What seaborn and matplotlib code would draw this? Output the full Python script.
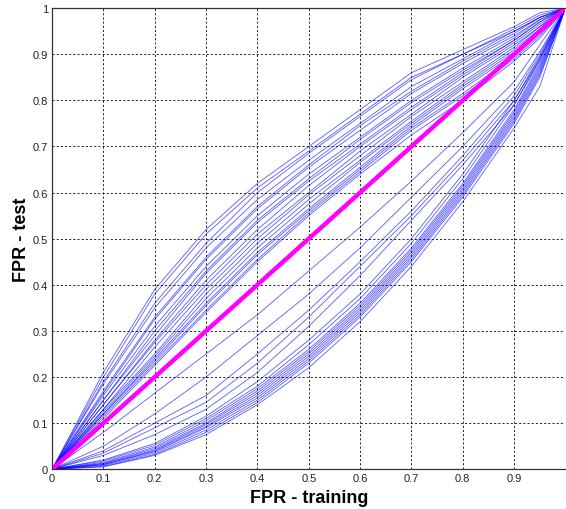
import matplotlib
matplotlib.use("Agg")
import matplotlib.pyplot as plt
import seaborn as sns
import pandas as pd

# FPR on training set (shared x knots of every curve)
fpr_train = [0, 0.1, 0.2, 0.3, 0.4, 0.5, 0.6, 0.7, 0.8, 0.9, 0.95, 1]

# curves above the diagonal
upper_curves = [
    [0, .21, .39, .52, .62, .70, .78, .86, .91, .96, .99, 1],
    [0, .20, .38, .51, .61, .69, .77, .85, .90, .955, .985, 1],
    [0, .19, .36, .49, .60, .685, .765, .845, .90, .95, .98, 1],
    [0, .185, .35, .48, .585, .67, .75, .83, .89, .95, .98, 1],
    [0, .17, .33, .46, .57, .66, .745, .82, .885, .945, .98, 1],
    [0, .165, .325, .455, .565, .655, .735, .815, .88, .94, .975, 1],
    [0, .16, .31, .44, .55, .64, .72, .80, .87, .935, .975, 1],
    [0, .15, .30, .43, .54, .63, .715, .795, .865, .93, .97, 1],
    [0, .15, .29, .425, .535, .625, .705, .785, .86, .93, .97, 1],
    [0, .14, .28, .41, .52, .615, .70, .78, .855, .925, .965, 1],
    [0, .14, .275, .40, .51, .60, .69, .77, .85, .92, .96, 1],
    [0, .13, .265, .39, .50, .595, .68, .765, .84, .915, .96, 1],
    [0, .13, .25, .38, .49, .585, .67, .755, .835, .91, .955, 1],
    [0, .125, .245, .37, .48, .575, .665, .75, .83, .905, .95, 1],
    [0, .12, .24, .36, .47, .565, .655, .745, .825, .90, .95, 1],
    [0, .12, .235, .355, .465, .56, .65, .74, .815, .895, .945, 1],
    [0, .115, .23, .345, .455, .555, .645, .735, .81, .89, .94, 1],
    [0, .11, .225, .34, .45, .55, .64, .725, .80, .885, .935, 1],
]

# curves a little below the diagonal
middle_curves = [
    [0, .08, .165, .25, .335, .43, .525, .625, .73, .84, .92, 1],
    [0, .05, .12, .20, .29, .38, .48, .59, .70, .82, .905, 1],
    [0, .04, .10, .16, .25, .345, .45, .56, .68, .81, .90, 1],
    [0, .035, .09, .145, .23, .33, .44, .55, .67, .80, .895, 1],
    [0, .03, .075, .13, .21, .31, .42, .54, .66, .79, .89, 1],
]

# bundle far below the diagonal
lower_curves = [
    [0, .005, .03, .075, .14, .22, .32, .44, .58, .74, .83, 1],
    [0, .006, .032, .08, .145, .23, .33, .45, .59, .75, .85, 1],
    [0, .008, .035, .085, .15, .235, .335, .455, .595, .755, .855, 1],
    [0, .01, .038, .09, .155, .24, .34, .46, .60, .76, .86, 1],
    [0, .01, .04, .093, .16, .245, .345, .465, .605, .765, .865, 1],
    [0, .012, .042, .097, .165, .25, .35, .47, .61, .77, .87, 1],
    [0, .013, .045, .10, .17, .255, .355, .475, .615, .775, .875, 1],
    [0, .015, .048, .105, .175, .26, .36, .48, .62, .78, .88, 1],
    [0, .018, .052, .11, .18, .27, .37, .49, .63, .79, .885, 1],
    [0, .02, .056, .115, .19, .28, .38, .50, .64, .80, .89, 1],
]

diag_x = [0, 1]
diag_y = [0, 1]

xticks = [0, 0.1, 0.2, 0.3, 0.4, 0.5, 0.6, 0.7, 0.8, 0.9]
xticklabels = ["0", "0.1", "0.2", "0.3", "0.4", "0.5", "0.6", "0.7", "0.8", "0.9"]
yticks = [0, 0.1, 0.2, 0.3, 0.4, 0.5, 0.6, 0.7, 0.8, 0.9, 1]
yticklabels = ["0", "0.1", "0.2", "0.3", "0.4", "0.5", "0.6", "0.7", "0.8", "0.9", "1"]

rows = []
for i, c in enumerate(upper_curves + middle_curves + lower_curves):
    for x, y in zip(fpr_train, c):
        rows.append({"curve": i, "train": x, "test": y})
df = pd.DataFrame(rows)

sns.set_style("white")
plt.rcParams["font.family"] = ["Liberation Sans", "DejaVu Sans"]

fig = plt.figure(figsize=(5.66, 5.10), dpi=100)
ax = fig.add_axes([0.092, 0.078, 0.907, 0.904])

sns.lineplot(data=df, x="train", y="test", units="curve", estimator=None,
             color="#0000ff", linewidth=0.6, alpha=0.65, ax=ax, legend=False)
sns.lineplot(x=diag_x, y=diag_y, color="#ff00ff", linewidth=3.2, ax=ax)

ax.set_xlim(0, 1)
ax.set_ylim(0, 1)
ax.set_xticks(xticks)
ax.set_xticklabels(xticklabels)
ax.set_yticks(yticks)
ax.set_yticklabels(yticklabels)
ax.tick_params(direction="in", length=3, labelsize=8, colors="#222222", pad=3)
ax.grid(True, color="black", linestyle=(0, (2.5, 2.5)), linewidth=0.6)
for s in ["top", "left", "bottom"]:
    ax.spines[s].set_color("#333333")
    ax.spines[s].set_linewidth(0.9)
ax.spines["right"].set_visible(False)

ax.set_xlabel("FPR - training", fontsize=13, fontweight="bold", labelpad=4, color="black")
ax.set_ylabel("FPR - test", fontsize=13, fontweight="bold", labelpad=2, color="black")

fig.savefig("out.png", dpi=100)
